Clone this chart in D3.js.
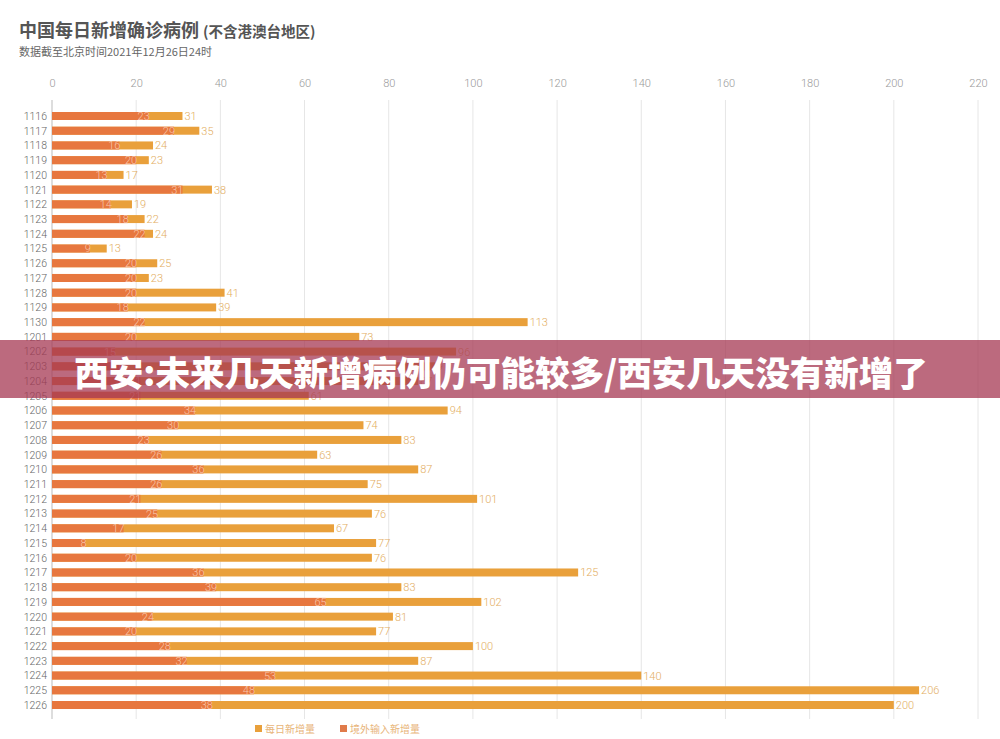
<!DOCTYPE html>
<html>
<head>
<meta charset="utf-8">
<script src="https://cdn.jsdelivr.net/npm/d3@7"></script>
<style>
  body { margin: 0; background: #fff; }
  svg { display: block; font-family: "Noto Sans CJK SC", "Noto Sans", sans-serif; }
</style>
</head>
<body>
<div id="chart"></div>
<script>
// dates (MMDD)
const dates = ['1116','1117','1118','1119','1120','1121','1122','1123','1124','1125','1126','1127','1128','1129','1130',
  '1201','1202','1203','1204','1205','1206','1207','1208','1209','1210','1211','1212','1213','1214','1215',
  '1216','1217','1218','1219','1220','1221','1222','1223','1224','1225','1226'];
// 每日新增量
const totalCases = [31,35,24,23,17,38,19,22,24,13,25,23,41,39,113,
  73,96,91,87,61,94,74,83,63,87,75,101,76,67,77,
  76,125,83,102,81,77,100,87,140,206,200];
// 境外输入新增量
const importCases = [23,29,16,20,13,31,14,18,22,9,20,20,20,18,22,
  20,15,18,21,21,34,30,23,26,36,26,21,25,17,8,
  20,36,39,65,24,20,28,32,53,48,38];
const xTicks = [0,20,40,60,80,100,120,140,160,180,200,220];

const data = dates.map((d, i) => ({date: d, total: totalCases[i], imported: importCases[i]}));

const width = 1000, height = 739;
const colTotal = '#E9A03B', colImport = '#E7773F';

const svg = d3.select('#chart').append('svg')
  .attr('width', width)
  .attr('height', height);

const xScale = d3.scaleLinear().domain([0, 220]).range([52, 978]);
const yScale = d3.scalePoint().domain(dates).range([116, 705]);
const barH = 8;

// title
const title = svg.append('text')
  .attr('x', 19).attr('y', 37)
  .attr('fill', '#555')
  .style('font-weight', 'bold');
title.append('tspan').style('font-size', '18px').text('中国每日新增确诊病例');
title.append('tspan').style('font-size', '14.5px').attr('dx', 4).text('(不含港澳台地区)');

svg.append('text')
  .attr('x', 19).attr('y', 56)
  .attr('fill', '#666')
  .style('font-size', '11px')
  .text('数据截至北京时间2021年12月26日24时');

// top axis
const xAxis = d3.axisTop(xScale)
  .tickValues(xTicks)
  .tickSize(0)
  .tickPadding(0);

const xAxisG = svg.append('g')
  .attr('transform', 'translate(0,87)')
  .call(xAxis);
xAxisG.select('.domain').remove();
xAxisG.selectAll('text')
  .attr('fill', '#999')
  .style('font-family', 'Roboto, "Noto Sans", sans-serif')
  .style('font-weight', 300)
  .style('font-size', '11px');

// grid
svg.append('g').selectAll('line')
  .data(xTicks.slice(1))
  .join('line')
  .attr('x1', d => xScale(d)).attr('x2', d => xScale(d))
  .attr('y1', 100).attr('y2', 719)
  .attr('stroke', '#e6e6e6')
  .attr('stroke-width', 1);

svg.append('line')
  .attr('x1', xScale(0)).attr('x2', xScale(0))
  .attr('y1', 100).attr('y2', 719)
  .attr('stroke', '#bbb');

// category labels
const yAxis = d3.axisLeft(yScale).tickSize(0).tickPadding(5);
const yAxisG = svg.append('g')
  .attr('transform', `translate(${xScale(0)},0)`)
  .call(yAxis);
yAxisG.select('.domain').remove();
yAxisG.selectAll('text')
  .attr('fill', '#666')
  .style('font-family', 'Roboto, "Noto Sans", sans-serif')
  .style('font-weight', 300)
  .style('font-size', '10.5px');

// bars
const rows = svg.append('g').selectAll('g')
  .data(data)
  .join('g')
  .attr('transform', d => `translate(0,${yScale(d.date)})`);

rows.append('rect')
  .attr('x', xScale(0))
  .attr('y', -barH / 2)
  .attr('width', d => xScale(d.total) - xScale(0))
  .attr('height', barH)
  .attr('fill', colTotal);

rows.append('rect')
  .attr('x', xScale(0))
  .attr('y', -barH / 2)
  .attr('width', d => xScale(d.imported) - xScale(0))
  .attr('height', barH)
  .attr('fill', colImport);

rows.append('text')
  .attr('x', d => xScale(d.total) + 2)
  .attr('dy', '0.36em')
  .attr('fill', '#E3AE62')
  .style('font-family', 'Roboto, "Noto Sans", sans-serif')
  .style('font-weight', 300)
  .style('font-size', '11px')
  .text(d => d.total);

rows.append('text')
  .attr('x', d => xScale(d.imported) + 1)
  .attr('dy', '0.36em')
  .attr('text-anchor', 'end')
  .attr('fill', 'rgba(255,225,210,0.75)')
  .style('font-family', 'Roboto, "Noto Sans", sans-serif')
  .style('font-weight', 300)
  .style('font-size', '11px')
  .text(d => d.imported);

// legend
const legend = [
  {label: '每日新增量', color: colTotal, x: 255},
  {label: '境外输入新增量', color: '#E07B4A', x: 340}
];
const lg = svg.append('g').selectAll('g')
  .data(legend)
  .join('g')
  .attr('transform', d => `translate(${d.x},729)`);
lg.append('rect')
  .attr('x', 0).attr('y', -4)
  .attr('width', 7).attr('height', 7)
  .attr('fill', d => d.color);
lg.append('text')
  .attr('x', 10)
  .attr('dy', '0.35em')
  .attr('fill', '#E8B57A')
  .style('font-size', '10px')
  .text(d => d.label);

// banner overlay
svg.append('rect')
  .attr('x', 0).attr('y', 340)
  .attr('width', width).attr('height', 58)
  .attr('fill', 'rgba(165,56,83,0.75)');

svg.append('text')
  .attr('x', 501).attr('y', 386)
  .attr('text-anchor', 'middle')
  .attr('fill', '#fff')
  .style('font-size', '34.5px')
  .style('font-weight', 900)
  .text('西安:未来几天新增病例仍可能较多/西安几天没有新增了');
</script>
</body>
</html>
